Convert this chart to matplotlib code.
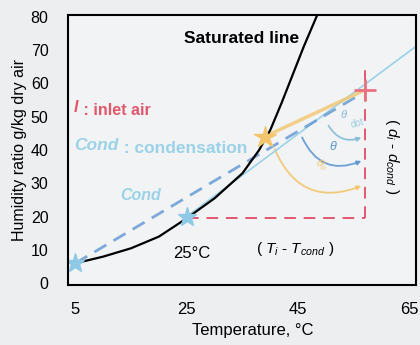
import matplotlib.pyplot as plt
from matplotlib.patches import FancyArrowPatch

plt.rcParams['font.family'] = ['Liberation Sans', 'DejaVu Sans']
plt.rcParams['mathtext.fontset'] = 'custom'
plt.rcParams['mathtext.rm'] = 'Liberation Sans'
plt.rcParams['mathtext.it'] = 'Liberation Sans:italic'
plt.rcParams['mathtext.bf'] = 'Liberation Sans:bold'

# saturated line
sat_T = [5, 10, 15, 20, 25, 30, 32, 35, 38, 40, 42, 44, 46, 48.3]
sat_W = [6, 8, 10.5, 14, 19.5, 25.5, 28.5, 33, 40, 46, 54, 62.5, 71, 80]

# states
cond_T, cond_W = 25, 20       # condensation point
start_T, start_W = 5, 6       # left end
mid_T, mid_W = 39, 44         # orange star on saturated line
inlet_T, inlet_W = 57, 58     # inlet air cross

# lines
cyan_T = [25, 66.1]
cyan_W = [20, 71]
dash_T = [5, 56]
dash_W = [6, 56.5]
vert_W = [19.5, 66]

red = '#e3576d'
blue = '#5f97d2'
cyan = '#9bd2e8'
orange = '#f3c66e'

fig = plt.figure(figsize=(4.2, 3.45), dpi=100, facecolor='#eceef0')
ax = fig.add_axes([0.162, 0.174, 0.828, 0.783], facecolor='#f1f3f5')

ax.plot(cyan_T, cyan_W, color=cyan, lw=1.2)
ax.plot(dash_T, dash_W, color=blue, lw=2, ls=(0, (5, 3)), alpha=0.8)
ax.plot([mid_T, inlet_T], [mid_W, inlet_W], color=orange, lw=2.5, alpha=0.8)
ax.plot(sat_T, sat_W, color='black', lw=1.6)
ax.plot([cond_T, inlet_T], [19.5, 19.5], color=red, lw=1.4, ls=(0, (6, 4)))
ax.plot([inlet_T, inlet_T], vert_W, color=red, lw=1.4, ls=(0, (6, 4)))

ax.plot([start_T, cond_T], [start_W, cond_W], ls='none', marker='*', ms=14, color='#8ec9e6')
ax.plot([mid_T], [mid_W], ls='none', marker='*', ms=16, color=orange)
ax.plot([inlet_T], [inlet_W], ls='none', marker='+', ms=16, mew=2, color='#e8717f')

# angle arcs
arcs = [((40.6, 41), (56.8, 29.5), orange, 0.5),
        ((45.5, 44.5), (56.8, 37), blue, 0.5),
        ((50.2, 48), (56.8, 44), '#86bcd8', 0.45)]
for a, b, c, rad in arcs:
    ax.add_patch(FancyArrowPatch(a, b, connectionstyle=f'arc3,rad={rad}', color=c,
                                 arrowstyle='-|>', mutation_scale=6, lw=1.3, alpha=0.9))
ax.text(47.5, 34, r'$\theta_{II}$', color=orange, fontsize=8, rotation=-40)
ax.text(50.5, 40, r'$\theta$', color=blue, fontsize=9)
ax.text(52.5, 49.5, r'$\theta$', color='#86bcd8', fontsize=8)
ax.text(54.3, 46.5, 'dot', color='#9fcde2', fontsize=7, rotation=15)

ax.text(24.5, 72, 'Saturated line', fontsize=12.5, fontweight='bold')
t1 = ax.text(4.8, 51.5, 'I', color=red, fontsize=11.5, fontweight='bold', style='italic')
ax.annotate(' : inlet air', xy=(1, 0), xycoords=t1, color=red, fontsize=11.5, fontweight='bold')
t2 = ax.text(4.8, 40, 'Cond', color=cyan, fontsize=12.5, fontweight='bold', style='italic')
ax.annotate(' : condensation', xy=(1, 0), xycoords=t2, color=cyan, fontsize=12.5, fontweight='bold')
ax.text(13, 25, 'Cond', color=cyan, fontsize=11.5, fontweight='bold', style='italic')
ax.text(22.5, 7.5, '25°C', fontsize=12)
ax.text(37.5, 9, r'( $T_i$ - $T_{cond}$ )', fontsize=11)
ax.text(61.8, 38, r'( $d_i$ - $d_{cond}$ )', fontsize=11, rotation=-90, va='center', ha='center')

ax.set_xlim(3.7, 66.1)
ax.set_ylim(-0.5, 80.5)
ax.set_xticks([5, 25, 45, 65])
ax.set_yticks(range(0, 81, 10))
ax.tick_params(axis='x', length=0, labelsize=12, pad=12)
ax.tick_params(axis='y', length=0, labelsize=11.5, pad=14)
ax.set_xlabel('Temperature, °C', fontsize=12)
ax.xaxis.set_label_coords(0.53, -0.14)
ax.set_ylabel('Humidity ratio g/kg dry air', fontsize=11.5, labelpad=3)
for s in ax.spines.values():
    s.set_linewidth(1.5)

fig.savefig('out.png', dpi=100, facecolor=fig.get_facecolor())
